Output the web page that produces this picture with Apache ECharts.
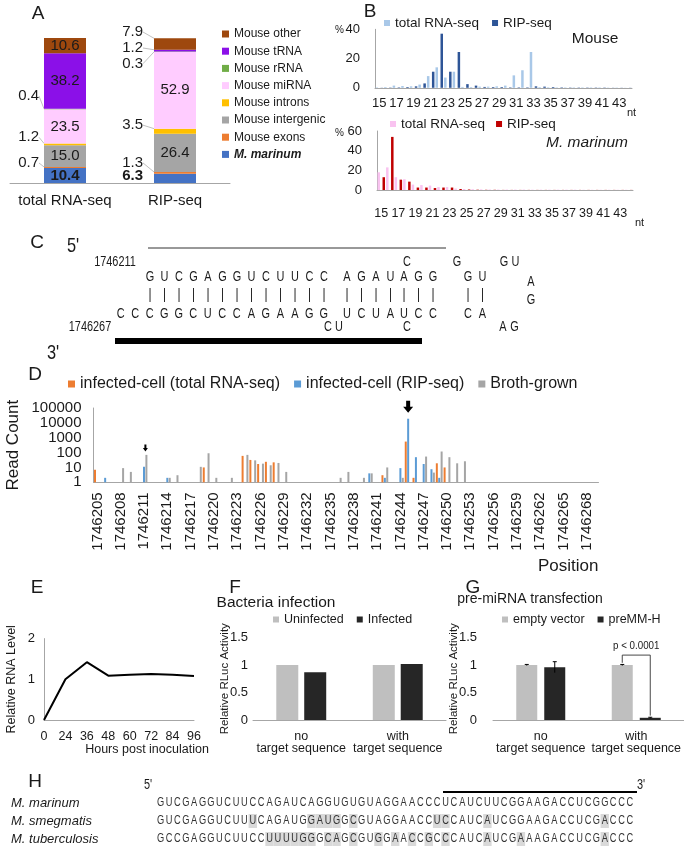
<!DOCTYPE html>
<html><head><meta charset="utf-8">
<script src="https://cdn.jsdelivr.net/npm/echarts@6/dist/echarts.min.js"></script>
<style>html,body{margin:0;padding:0;background:#fff}#c{width:684px;height:859px}</style>
</head><body><div id="c"></div>
<script>
// ---------------- DATA ----------------
// Panel A
const aCategories = ['total RNA-seq', 'RIP-seq'];
const aSeriesNames = ['M. marinum','Mouse exons','Mouse intergenic','Mouse introns','Mouse miRNA','Mouse rRNA','Mouse tRNA','Mouse other'];
const aTotal = [10.4, 0.7, 15.0, 1.2, 23.5, 0.4, 38.2, 10.6];
const aRip   = [6.3, 1.3, 26.4, 3.5, 52.9, 0.3, 1.2, 7.9];
// Panel B
const bLengths = ['15','16','17','18','19','20','21','22','23','24','25','26','27','28','29','30','31','32','33','34','35','36','37','38','39','40','41','42','43','44'];
const mouseTotal = [0.3,0.5,1.5,1.2,1.0,2.2,8,14,7,11,0.6,0.5,0.8,0.8,1.0,1.5,8.5,12,24.5,0.5,0.4,0.3,0.3,0.3,0.3,0.3,0.3,0.2,0.2,0.1];
const mouseRip   = [0.1,0.2,0.3,0.5,1.0,3,11,37,11,24.5,2.5,1.5,0.6,0.5,0.5,0.3,0.3,0.3,1.0,0.8,0.5,0.3,0.2,0.2,0.2,0.2,0.2,0.1,0.1,0.1];
const marTotal   = [18,23,13,11,5.5,5,4.5,3,3,1.5,1,0.8,0.6,0.5,0.4,0.4,0.4,0.4,0.3,0.3,0.3,0.3,0.3,0.3,0.2,0.2,0.2,0.2,0.2,0.2];
const marRip     = [13,54,10.5,8.5,2.5,2.5,2,2.5,2.5,1,0.5,0.3,0.2,0.2,0.1,0.1,0.1,0.1,0.1,0.1,0.1,0.1,0.1,0.1,0.1,0.1,0.1,0.1,0.1,0.1];
// Panel D  (positions 1746205 ... 1746269)
const dPositions = ['1746205','1746206','1746207','1746208','1746209','1746210','1746211','1746212','1746213','1746214','1746215','1746216','1746217','1746218','1746219','1746220','1746221','1746222','1746223','1746224','1746225','1746226','1746227','1746228','1746229','1746230','1746231','1746232','1746233','1746234','1746235','1746236','1746237','1746238','1746239','1746240','1746241','1746242','1746243','1746244','1746245','1746246','1746247','1746248','1746249','1746250','1746251','1746252','1746253','1746254','1746255','1746256','1746257','1746258','1746259','1746260','1746261','1746262','1746263','1746264','1746265','1746266','1746267','1746268','1746269'];
const dTotal = [7,null,null,null,null,null,null,null,null,null,null,null,null,null,10,null,null,null,null,60,32,17,24,22,null,null,null,null,null,null,null,null,null,null,null,null,null,3,null,null,550,2,null,null,19,10,null,null,null,null,null,null,null,null,null,null,null,null,null,null,null,null,null,null,null];
const dRip   = [null,2,null,null,null,null,11,null,null,2,null,null,null,null,null,null,null,null,null,null,null,null,null,null,null,null,null,null,null,null,null,null,null,null,null,4,null,2,null,9,19000,49,17,7.6,2,null,null,null,null,null,null,null,null,null,null,null,null,null,null,null,null,null,null,null,null];
const dBroth = [null,null,null,9,5,null,70,null,null,2,3,null,null,11,90,2,null,2,null,70,30,18,14,20,5,null,null,null,null,null,null,2,5,null,2,4,null,10,null,2,null,null,54,4.5,118,49,19,26,null,null,null,null,null,null,null,null,null,null,null,null,null,null,null,null,null];
// Panel E
const eHours = ['0','24','36','48','60','72','84','96'];
const eLevel = [0, 1.0, 1.42, 1.09, 1.11, 1.13, 1.11, 1.08];
// Panel F
const fCats = ['no\ntarget sequence', 'with\ntarget sequence'];
const fUninfected = [1.0, 1.0];
const fInfected = [0.87, 1.02];
// Panel G
const gCats = ['no\ntarget sequence', 'with\ntarget sequence'];
const gEmpty = [1.0, 1.0];
const gEmptyErr = [0.01, 0.01];
const gPre = [0.96, 0.04];
const gPreErr = [0.1, 0.01];
const gBracket = [1.04, 1.18, 0.08];   // left foot, top, right foot (value units)
const gPText = 'p < 0.0001';
// Panel C (hairpin)
const cRow1 = ['GUCGAGGUCUUCC', 'AGAU', 'AGG', 'GU'];
const cRow3 = ['CCCGGCUCCAGAAGG', 'UCUA', 'UCC', 'CA'];
const cTopBulge = ['C', 'G', 'G', 'U'];
const cBottomBulge = ['C', 'U', 'C', 'A', 'G'];
const cLoop = ['A', 'G'];
const cStart = '1746211', cEnd = '1746267';
// Panel H (alignment)
const hSpecies = ['M. marinum', 'M. smegmatis', 'M. tuberculosis'];
const hSeqs = [
  'GUCGAGGUCUUCCAGAUCAGGUGUGUAGGAACCCUCAUCUUCGGAAGACCUCGGCCC',
  'GUCGAGGUCUUUCAGAUGGAUGGCGUAGGAACCUCCAUCAUCGGAAGACCUCGACCC',
  'GCCGAGGUCUUCCUUUUGGGCAGCGUGGAACCGCCCAUCAUCGAAAGACCUCGACCC'
];
const hHighlights = [[], [11,18,19,20,21,23,33,34,39,53], [13,14,15,16,17,18,20,21,23,26,28,30,32,34,39,43,53]];

// ---------------- STYLE / LAYOUT ----------------
const FONT = "'Liberation Sans', Arial, sans-serif";
const TXT = '#1a1a1a';
const AXC = '#A6A6A6';
const aColors = ['#4472C4','#ED7D31','#A5A5A5','#FFC000','#FFCCFF','#70AD47','#8B10E8','#9E480E'];
const aLabelDy = [[null,-2.5],[-4.4,-10],[null,null],[-7,-6],[null,null],[-13,12],[null,-2.6],[null,-12]];
const aLabelGap = [5, 11];
const G_BW = 21, G_GAP = 7;
const G_OFF = (G_BW + G_GAP) / 2;

const chart = echarts.init(document.getElementById('c'), null, {renderer: 'canvas'});

// ---------- graphics (panel letters, C, H) ----------
const graphics = [];
function T(x, y, text, opt, sx) {
  const el = {type: 'text', x: x, y: y, silent: true,
    style: Object.assign({text: text, fill: TXT, fontSize: 12, fontFamily: FONT, align: 'center', verticalAlign: 'middle'}, opt || {})};
  if (sx) el.scaleX = sx;
  graphics.push(el);
}
function R(x, y, w, h, fill) { graphics.push({type: 'rect', silent: true, shape: {x: x, y: y, width: w, height: h}, style: {fill: fill}}); }
function L(x1, y1, x2, y2, w, c) { graphics.push({type: 'line', silent: true, shape: {x1: x1, y1: y1, x2: x2, y2: y2}, style: {stroke: c || '#000', lineWidth: w}}); }

[['A',38,14],['B',370,12],['C',37,243],['D',35,375],['E',37,588],['F',235,588],['G',473,588],['H',35,782]]
  .forEach(p => T(p[1], p[2], p[0], {fontSize: 19}));

// B panel inner titles
T(595, 39, 'Mouse', {fontSize: 15.5});
T(587, 143, 'M. marinum', {fontSize: 15.5, fontStyle: 'italic'});

// C panel
const NX = 0.78;  // narrow glyphs
T(73, 246, "5'", {fontSize: 21}, NX);
L(148, 248, 446, 248, 1, '#333');
T(115, 262, cStart, {fontSize: 14}, NX);
T(90, 327, cEnd, {fontSize: 14}, NX);
const cStep = 14.5;
const row1X = [150, 347, 404, 468], row3X = [120.8, 347, 404, 468];
const cLetter = {fontSize: 14};
cRow1.forEach((g, gi) => g.split('').forEach((ch, i) => {
  T(row1X[gi] + i * cStep, 277, ch, cLetter, NX);
  T(row1X[gi] + i * cStep, 295, '|', {fontSize: 15}, NX);
}));
cRow3.forEach((g, gi) => g.split('').forEach((ch, i) => T(row3X[gi] + i * cStep, 314, ch, cLetter, NX)));
const topBX = [407, 457, 504, 515.5];
cTopBulge.forEach((ch, i) => T(topBX[i], 262, ch, cLetter, NX));
const botBX = [328, 339, 407, 503, 514.5];
cBottomBulge.forEach((ch, i) => T(botBX[i], 327, ch, cLetter, NX));
T(531, 282, cLoop[0], cLetter, NX);
T(531, 300, cLoop[1], cLetter, NX);
R(115, 338, 307, 6, '#000');
T(53, 353, "3'", {fontSize: 21}, NX);

// H panel
const hRowY = [803, 821, 839];
const hX0 = 156.4, hStep = 8.38;
T(148, 785, "5'", {fontSize: 14}, NX);
T(641, 785, "3'", {fontSize: 14}, NX);
L(443, 792, 637, 792, 2);
hSeqs.forEach((s, r) => {
  hHighlights[r].forEach(i => R(hX0 + i * hStep, hRowY[r] - 7, hStep, 14, '#D9D9D9'));
});
hSeqs.forEach((s, r) => {
  T(11, hRowY[r], hSpecies[r], {fontSize: 13, fontStyle: 'italic', align: 'left'});
  s.split('').forEach((ch, i) => T(hX0 + (i + 0.5) * hStep, hRowY[r], ch, {fontSize: 12.5, fill: '#333'}, 0.74));
});

// ---------- series ----------
const series = [];
// A: stacked bars
aSeriesNames.forEach((name, i) => {
  series.push({
    type: 'bar', name: name, stack: 'a', xAxisIndex: 0, yAxisIndex: 0, barWidth: 42,
    itemStyle: {color: aColors[i]},
    label: {show: true, fontSize: 15, color: TXT, fontFamily: FONT, fontWeight: i === 0 ? 'bold' : 'normal',
      formatter: p => Number(p.value).toFixed(1)},
    labelLine: {show: true, lineStyle: {color: '#B0B0B0', width: 0.8}},
    labelLayout: function (p) {
      const dy = aLabelDy[i][p.dataIndex];
      if (dy === null) return {};
      return {x: p.rect.x - aLabelGap[p.dataIndex], y: p.rect.y + p.rect.height / 2 + dy, align: 'right', verticalAlign: 'middle'};
    },
    data: [aTotal[i], aRip[i]].map((v, j) => ({
      value: v,
      label: {position: aLabelDy[i][j] === null ? 'inside' : 'left'},
      labelLine: {show: aLabelDy[i][j] !== null && i !== 0}
    }))
  });
});
// B
series.push({type: 'bar', name: 'total RNA-seq', xAxisIndex: 1, yAxisIndex: 1, barWidth: 2.5, barGap: '100%', itemStyle: {color: '#A9C8E8'}, data: mouseTotal});
series.push({type: 'bar', name: 'RIP-seq', xAxisIndex: 1, yAxisIndex: 1, barWidth: 2.5, barGap: '100%', itemStyle: {color: '#2E5597'}, data: mouseRip});
series.push({type: 'bar', name: 'total RNA-seq ', xAxisIndex: 2, yAxisIndex: 2, barWidth: 2.5, barGap: '100%', itemStyle: {color: '#F9C3F0'}, data: marTotal});
series.push({type: 'bar', name: 'RIP-seq ', xAxisIndex: 2, yAxisIndex: 2, barWidth: 2.5, barGap: '100%', itemStyle: {color: '#C00000'}, data: marRip});
// D
const arrowPath = 'path://M3,0 L7,0 L7,6 L10,6 L5,12 L0,6 L3,6 Z';
series.push({type: 'bar', name: 'infected-cell (total RNA-seq)', xAxisIndex: 3, yAxisIndex: 3, barWidth: 2, barGap: '20%', itemStyle: {color: '#ED7D31'}, data: dTotal});
series.push({type: 'bar', name: 'infected-cell (RIP-seq)', xAxisIndex: 3, yAxisIndex: 3, barWidth: 2, barGap: '20%', itemStyle: {color: '#5B9BD5'}, data: dRip,
  markPoint: {silent: true, label: {show: false}, itemStyle: {color: '#000'},
    data: [{coord: [40, dRip[40]], symbol: arrowPath, symbolSize: [10, 12], symbolOffset: [0, -12]}]}});
series.push({type: 'bar', name: 'Broth-grown', xAxisIndex: 3, yAxisIndex: 3, barWidth: 2, barGap: '20%', itemStyle: {color: '#A5A5A5'}, data: dBroth,
  markPoint: {silent: true, label: {show: false}, itemStyle: {color: '#000'},
    data: [{coord: [6, dBroth[6]], symbol: arrowPath, symbolSize: [5, 7], symbolOffset: [-1, -7]}]}});
// E
series.push({type: 'line', xAxisIndex: 4, yAxisIndex: 4, data: eLevel, symbol: 'none', lineStyle: {color: '#000', width: 2}, itemStyle: {color: '#000'}});
// F
series.push({type: 'bar', name: 'Uninfected', xAxisIndex: 5, yAxisIndex: 5, barWidth: 22, barGap: '27%', itemStyle: {color: '#BFBFBF'}, data: fUninfected});
series.push({type: 'bar', name: 'Infected', xAxisIndex: 5, yAxisIndex: 5, barWidth: 22, barGap: '27%', itemStyle: {color: '#262626'}, data: fInfected});
// G
series.push({type: 'bar', name: 'empty vector', xAxisIndex: 6, yAxisIndex: 6, barWidth: G_BW, barGap: (G_GAP / G_BW * 100) + '%', itemStyle: {color: '#BFBFBF'}, data: gEmpty});
series.push({type: 'bar', name: 'preMM-H', xAxisIndex: 6, yAxisIndex: 6, barWidth: G_BW, barGap: (G_GAP / G_BW * 100) + '%', itemStyle: {color: '#262626'}, data: gPre});
series.push({type: 'custom', xAxisIndex: 6, yAxisIndex: 6, silent: true, z: 10,
  data: gCats.map((c, i) => [i, gEmpty[i], gEmptyErr[i], -1]).concat(gCats.map((c, i) => [i, gPre[i], gPreErr[i], 1])),
  renderItem: function (params, api) {
    const i = api.value(0), v = api.value(1), e = api.value(2), side = api.value(3);
    const x = api.coord([i, v])[0] + side * G_OFF;
    const yt = api.coord([i, v + e])[1], yb = api.coord([i, v - e])[1];
    return {type: 'group', children: [
      {type: 'line', shape: {x1: x, y1: yt, x2: x, y2: yb}, style: {stroke: '#000', lineWidth: 1}},
      {type: 'line', shape: {x1: x - 2, y1: yt, x2: x + 2, y2: yt}, style: {stroke: '#000', lineWidth: 1}}
    ]};
  }});
series.push({type: 'custom', xAxisIndex: 6, yAxisIndex: 6, silent: true, z: 10,
  data: [[1, gBracket[0], gBracket[1], gBracket[2]]],
  renderItem: function (params, api) {
    const i = api.value(0);
    const cx = api.coord([i, 0])[0];
    const xl = cx - G_OFF, xr = cx + G_OFF;
    const yl = api.coord([i, api.value(1)])[1], yt = api.coord([i, api.value(2)])[1], yr = api.coord([i, api.value(3)])[1];
    return {type: 'group', children: [
      {type: 'polyline', shape: {points: [[xl, yl], [xl, yt], [xr, yt], [xr, yr]]}, style: {stroke: '#333', lineWidth: 0.9, fill: null}},
      {type: 'text', x: cx, y: yt - 9, scaleX: 0.85, style: {text: gPText, fontSize: 11.5, fontFamily: FONT, fill: TXT, align: 'center', verticalAlign: 'middle'}}
    ]};
  }});

// ---------- axes ----------
const noTick = {show: false};
const axLine = {show: true, lineStyle: {color: AXC, width: 1}};
const lbl = (o) => Object.assign({color: TXT, fontFamily: FONT}, o);

const xAxis = [
  {gridIndex: 0, type: 'category', data: aCategories, axisLine: axLine, axisTick: noTick, axisLabel: lbl({fontSize: 15, margin: 10, interval: 0})},
  {gridIndex: 1, type: 'category', data: bLengths, axisLine: axLine, axisTick: noTick, axisLabel: lbl({fontSize: 13, interval: 1, margin: 9}),
    name: 'nt', nameLocation: 'end', nameGap: -5, nameMoveOverlap: false, nameTextStyle: {fontSize: 11, color: TXT, verticalAlign: 'top', padding: [20, 0, 0, 0]}},
  {gridIndex: 2, type: 'category', data: bLengths, axisLine: axLine, axisTick: noTick, axisLabel: lbl({fontSize: 12.5, interval: 1, margin: 17}),
    name: 'nt', nameLocation: 'end', nameGap: 2, nameMoveOverlap: false, nameTextStyle: {fontSize: 11, color: TXT, verticalAlign: 'top', padding: [27, 0, 0, 0]}},
  {gridIndex: 3, type: 'category', data: dPositions, axisLine: axLine, axisTick: noTick, axisLabel: lbl({fontSize: 15, rotate: 90, interval: 2, margin: 10}),
    name: 'Position', nameLocation: 'end', nameGap: 0, nameMoveOverlap: false, nameTextStyle: {fontSize: 17, color: TXT, align: 'right', verticalAlign: 'top', padding: [76, 0, 0, 0]}},
  {gridIndex: 4, type: 'category', data: eHours, boundaryGap: false, axisLine: axLine, axisTick: noTick, axisLabel: lbl({fontSize: 12.5, margin: 10, interval: 0}),
    name: 'Hours post inoculation', nameLocation: 'middle', nameGap: 23, nameMoveOverlap: false, nameTextStyle: {fontSize: 12.5, color: TXT, padding: [0, 0, 0, 56]}},
  {gridIndex: 5, type: 'category', data: fCats, axisLine: axLine, axisTick: noTick, axisLabel: lbl({fontSize: 12.5, lineHeight: 12, margin: 11, interval: 0})},
  {gridIndex: 6, type: 'category', data: gCats, axisLine: axLine, axisTick: noTick, axisLabel: lbl({fontSize: 12.5, lineHeight: 12, margin: 11, interval: 0})}
];
const yAxis = [
  {gridIndex: 0, type: 'value', min: 0, max: 100, show: false},
  {gridIndex: 1, type: 'value', min: 0, max: 40, interval: 20, axisLine: axLine, axisTick: noTick, splitLine: {show: false}, axisLabel: lbl({fontSize: 13, margin: 15}),
    name: '%', nameLocation: 'end', nameGap: -1, nameMoveOverlap: false, nameTextStyle: {fontSize: 10, color: TXT, align: 'right', verticalAlign: 'middle', padding: [0, 31, 0, 0]}},
  {gridIndex: 2, type: 'value', min: 0, max: 60, interval: 20, axisLine: axLine, axisTick: noTick, splitLine: {show: false}, axisLabel: lbl({fontSize: 13, margin: 15}),
    name: '%', nameLocation: 'end', nameGap: -2, nameMoveOverlap: false, nameTextStyle: {fontSize: 10, color: TXT, align: 'right', verticalAlign: 'middle', padding: [0, 33, 0, 0]}},
  {gridIndex: 3, type: 'log', logBase: 10, min: 1, max: 100000, axisLine: axLine, axisTick: noTick, splitLine: {show: false},
    axisLabel: lbl({fontSize: 15, margin: 12, formatter: v => String(Math.round(v))}),
    name: 'Read Count', nameLocation: 'middle', nameGap: 72, nameMoveOverlap: false, nameTextStyle: {fontSize: 17, color: TXT}},
  {gridIndex: 4, type: 'value', min: 0, max: 2, interval: 1, axisLine: axLine, axisTick: noTick, splitLine: {show: false}, axisLabel: lbl({fontSize: 13, margin: 9}),
    name: 'Relative RNA Level', nameLocation: 'middle', nameGap: 26, nameMoveOverlap: false, nameTextStyle: {fontSize: 12.5, color: TXT}},
  {gridIndex: 5, type: 'value', min: 0, max: 1.5, interval: 0.5, axisLine: {show: false}, axisTick: noTick, splitLine: {show: false}, axisLabel: lbl({fontSize: 13, margin: 5}),
    name: 'Relative RLuc Activity', nameLocation: 'middle', nameGap: 22, nameMoveOverlap: false, nameTextStyle: {fontSize: 11.5, color: TXT}},
  {gridIndex: 6, type: 'value', min: 0, max: 1.5, interval: 0.5, axisLine: {show: false}, axisTick: noTick, splitLine: {show: false}, axisLabel: lbl({fontSize: 13, margin: 16}),
    name: 'Relative RLuc Activity', nameLocation: 'middle', nameGap: 33, nameMoveOverlap: false, nameTextStyle: {fontSize: 11.5, color: TXT}}
];

const legBase = {icon: 'rect', selectedMode: false, padding: 0, textStyle: {color: TXT, fontFamily: FONT}};
const legend = [
  Object.assign({}, legBase, {left: 222, top: 27, orient: 'vertical', itemWidth: 7, itemHeight: 7, itemGap: 3.2,
    data: aSeriesNames.slice().reverse(),
    formatter: n => n === 'M. marinum' ? '{b|M. marinum}' : n,
    textStyle: {color: TXT, fontFamily: FONT, fontSize: 12, lineHeight: 14, rich: {b: {fontWeight: 'bold', fontStyle: 'italic', fontSize: 12, fontFamily: FONT, color: TXT}}}}),
  Object.assign({}, legBase, {left: 384, top: 16, itemWidth: 6, itemHeight: 6, itemGap: 13, data: ['total RNA-seq', 'RIP-seq'],
    textStyle: {color: TXT, fontFamily: FONT, fontSize: 13.5}}),
  Object.assign({}, legBase, {left: 390, top: 117, itemWidth: 6, itemHeight: 6, itemGap: 11, data: ['total RNA-seq ', 'RIP-seq '],
    formatter: n => n.trim(), textStyle: {color: TXT, fontFamily: FONT, fontSize: 13.5}}),
  Object.assign({}, legBase, {left: 68, top: 376, itemWidth: 7, itemHeight: 7, itemGap: 14,
    data: ['infected-cell (total RNA-seq)', 'infected-cell (RIP-seq)', 'Broth-grown'],
    textStyle: {color: TXT, fontFamily: FONT, fontSize: 16}}),
  Object.assign({}, legBase, {left: 273, top: 613, itemWidth: 6, itemHeight: 6, itemGap: 13, data: ['Uninfected', 'Infected'],
    textStyle: {color: TXT, fontFamily: FONT, fontSize: 12.5}}),
  Object.assign({}, legBase, {left: 502, top: 613, itemWidth: 6, itemHeight: 6, itemGap: 13, data: ['empty vector', 'preMM-H'],
    textStyle: {color: TXT, fontFamily: FONT, fontSize: 12.5}})
];

const grids = [
  {left: 10, top: 38, width: 220, height: 145},
  {left: 375, top: 29.3, width: 257, height: 58.5},
  {left: 377, top: 131, width: 256, height: 59},
  {left: 93.5, top: 408, width: 505, height: 74.3},
  {left: 44, top: 638.6, width: 150, height: 81.4},
  {left: 253, top: 637.5, width: 193, height: 82.5},
  {left: 493, top: 637.5, width: 191, height: 82.5}
].map(g => Object.assign({containLabel: false, outerBoundsMode: 'none'}, g));

// titles for F and G
T(276, 603, 'Bacteria infection', {fontSize: 15.5});
T(530, 599, 'pre-miRNA transfection', {fontSize: 14});

chart.setOption({
  animation: false,
  backgroundColor: '#fff',
  textStyle: {fontFamily: FONT},
  grid: grids,
  legend: legend,
  xAxis: xAxis,
  yAxis: yAxis,
  series: series,
  graphic: graphics
});
</script></body></html>
